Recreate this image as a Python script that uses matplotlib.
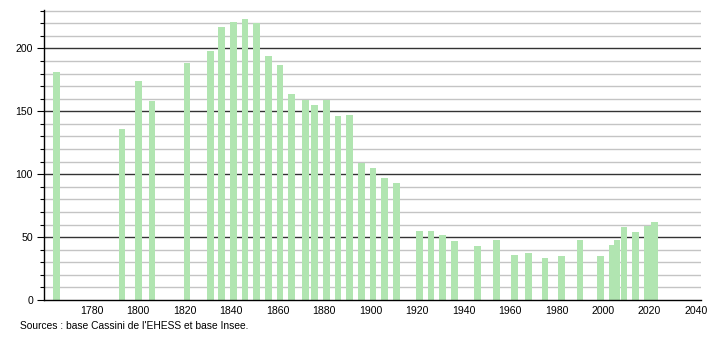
import matplotlib.pyplot as plt
from matplotlib.ticker import MultipleLocator

plt.rcParams['font.family'] = ['Liberation Sans', 'DejaVu Sans']

# années de recensement et population
years = [1765, 1793, 1800, 1806, 1821, 1831, 1836, 1841, 1846, 1851,
         1856, 1861, 1866, 1872, 1876, 1881, 1886, 1891, 1896, 1901,
         1906, 1911, 1921, 1926, 1931, 1936, 1946, 1954, 1962, 1968,
         1975, 1982, 1990, 1999, 2004, 2006, 2009, 2014, 2019, 2022]
population = [181, 136, 174, 158, 188, 198, 217, 221, 223, 220,
              194, 187, 164, 159, 155, 159, 146, 147, 109, 105,
              97, 93, 55, 55, 52, 47, 43, 48, 36, 37,
              33, 35, 48, 35, 44, 48, 58, 54, 59, 62]
xticks = [1780, 1800, 1820, 1840, 1860, 1880, 1900, 1920, 1940,
          1960, 1980, 2000, 2020, 2040]
source = "Sources : base Cassini de l'EHESS et base Insee."

fig = plt.figure(figsize=(7.1, 3.4), dpi=100)
ax = fig.add_axes([0.062, 0.1176, 0.925, 0.853])

# grille : fine tous les 10, foncée tous les 50
for v in range(10, 231, 10):
    if v % 50 == 0:
        ax.axhline(v, color='#333333', linewidth=1.0, zorder=1)
    else:
        ax.axhline(v, color='#c4c4c4', linewidth=1.0, zorder=1)

ax.bar(years, population, width=2.9, color='#b1e5b1', zorder=2)

ax.set_xlim(1759.5, 2042)
ax.set_ylim(0, 230.5)
ax.set_xticks(xticks)
ax.yaxis.set_major_locator(MultipleLocator(50))
ax.yaxis.set_minor_locator(MultipleLocator(10))
ax.tick_params(axis='x', length=0, labelsize=7.6, pad=4)
ax.tick_params(axis='y', which='major', length=5, width=0.8, labelsize=7.6, pad=3)
ax.tick_params(axis='y', which='minor', length=3, width=0.8)

for s in ['top', 'right']:
    ax.spines[s].set_visible(False)
ax.spines['left'].set_linewidth(1)
ax.spines['bottom'].set_linewidth(1)

fig.text(0.028, 0.04, source, fontsize=7.4, ha='left', va='center')

fig.savefig('out.png', dpi=100)
